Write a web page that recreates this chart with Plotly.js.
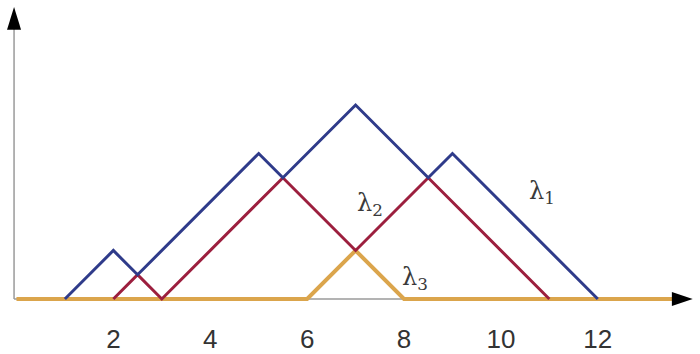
<!DOCTYPE html>
<html>
<head>
<meta charset="utf-8">
<script src="https://cdn.plot.ly/plotly-3.0.1.min.js"></script>
<style>html,body{margin:0;padding:0;background:#fff;}#chart{width:700px;height:354px;}</style>
</head>
<body>
<div id="chart"></div>
<script>
// Persistence landscape functions (breakpoints)
const lambda1X = [1, 2, 2.5, 5, 5.5, 7, 8.5, 9, 12];
const lambda1Y = [0, 1, 0.5, 3, 2.5, 4, 2.5, 3, 0];
const lambda2X = [2, 2.5, 3, 5.5, 7, 8.5, 11];
const lambda2Y = [0, 0.5, 0, 2.5, 1, 2.5, 0];
const lambda3X = [0, 6, 7, 8, 13.6];
const lambda3Y = [0, 0, 1, 0, 0];
const tickVals = [2, 4, 6, 8, 10, 12];
const tickText = ["2", "4", "6", "8", "10", "12"];
const seriesLabels = [
  {text: "λ<sub>1</sub>", x: 10.85, y: 2.2},
  {text: "λ<sub>2</sub>", x: 7.3, y: 1.94},
  {text: "λ<sub>3</sub>", x: 8.23, y: 0.43}
];

const traces = [
  {x: lambda3X, y: lambda3Y, mode: 'lines', line: {color: '#dba54c', width: 4}, hoverinfo: 'skip', cliponaxis: false},
  {x: lambda2X, y: lambda2Y, mode: 'lines', line: {color: '#9c1f3e', width: 3}, hoverinfo: 'skip', cliponaxis: false},
  {x: lambda1X, y: lambda1Y, mode: 'lines', line: {color: '#2f3b8a', width: 3}, hoverinfo: 'skip', cliponaxis: false}
];

const annotations = seriesLabels.map(l => ({
  x: l.x, y: l.y, xref: 'x', yref: 'y', text: l.text, showarrow: false,
  font: {family: 'DejaVu Serif', size: 24, color: '#3a3a3a'}
}));

const shapes = [
  {type: 'line', xref: 'x', yref: 'y', x0: -0.05, y0: 0, x1: 13.6, y1: 0, line: {color: '#9a9a9a', width: 1.5}, layer: 'below'},
  {type: 'line', xref: 'x', yref: 'y', x0: -0.05, y0: 0, x1: -0.05, y1: 5.6, line: {color: '#9a9a9a', width: 1.5}, layer: 'below'},
  {type: 'path', xref: 'x', yref: 'y', path: 'M 13.96 0 L 13.53 0.145 L 13.53 -0.145 Z', fillcolor: '#000', line: {width: 0}},
  {type: 'path', xref: 'x', yref: 'y', path: 'M -0.05 6.02 L -0.195 5.55 L 0.095 5.55 Z', fillcolor: '#000', line: {width: 0}}
];

const layout = {
  width: 700, height: 354,
  margin: {l: 0, r: 0, t: 0, b: 44, pad: 0},
  paper_bgcolor: '#fff', plot_bgcolor: '#fff',
  showlegend: false,
  xaxis: {
    range: [-0.34, 14.11], fixedrange: true,
    showline: false, showgrid: false, zeroline: false, ticks: '',
    tickmode: 'array', tickvals: tickVals, ticktext: tickText,
    tickfont: {family: 'Liberation Sans', size: 26, color: '#333333'},
    ticklabelstandoff: 11
  },
  yaxis: {range: [-0.227, 6.165], visible: false, fixedrange: true},
  annotations: annotations,
  shapes: shapes
};

Plotly.newPlot('chart', traces, layout, {staticPlot: true, displayModeBar: false});
</script>
</body>
</html>
